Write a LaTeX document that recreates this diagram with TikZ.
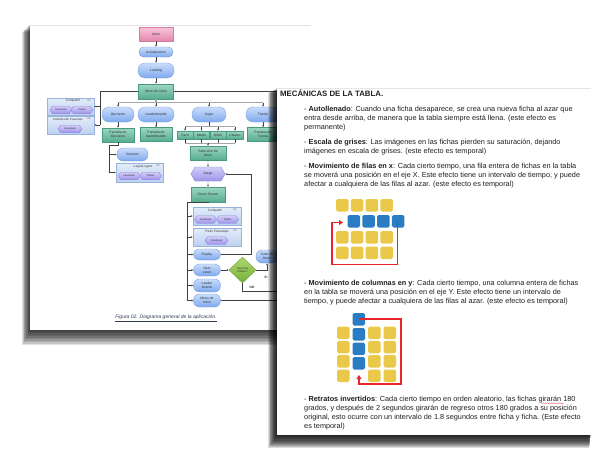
\documentclass[tikz,border=0pt]{standalone}
\usepackage{fontspec}
\setmainfont{Liberation Sans}
\usetikzlibrary{shapes.geometric,shapes.symbols,arrows.meta,decorations.pathmorphing}
\definecolor{pillT}{HTML}{CADDFB}
\definecolor{pillB}{HTML}{7FAAEE}
\definecolor{pillD}{HTML}{7A9EE0}
\definecolor{grT}{HTML}{9DD7C2}
\definecolor{grB}{HTML}{56AC8E}
\definecolor{grD}{HTML}{4A9A7E}
\definecolor{pkT}{HTML}{F8C6DA}
\definecolor{pkB}{HTML}{E586AE}
\definecolor{pkD}{HTML}{D67AA2}
\definecolor{hxT}{HTML}{D3CDFA}
\definecolor{hxB}{HTML}{9E93EA}
\definecolor{hxD}{HTML}{8A80D8}
\definecolor{bxT}{HTML}{E4EDFA}
\definecolor{bxB}{HTML}{BCD1F0}
\definecolor{bxD}{HTML}{98B2DC}
\definecolor{dmT}{HTML}{ADD66E}
\definecolor{dmB}{HTML}{75B03C}
\definecolor{dmD}{HTML}{6A9E38}
\definecolor{tileY}{HTML}{E9C84A}
\definecolor{tileB}{HTML}{2B7DC3}
\definecolor{arrR}{HTML}{E8262B}
\definecolor{capc}{HTML}{2F3B55}
\begin{document}
\begin{tikzpicture}[x=1pt,y=-1pt,
  fc/.style={font=\fontsize{3.4}{3.9}\selectfont, text=black!80, inner sep=0pt, align=center},
  pill/.style={fc, rounded corners=4.5pt, top color=pillT, bottom color=pillB, draw=pillD, line width=0.35pt},
  grect/.style={fc, top color=grT, bottom color=grB, draw=grD, line width=0.35pt},
  pinkbox/.style={fc, top color=pkT, bottom color=pkB, draw=pkD, line width=0.35pt},
  hexbig/.style={fc, shape=signal, signal to=east and west, signal pointer angle=120, top color=hxT, bottom color=hxB, draw=hxD, line width=0.35pt},
  hexsm/.style={fc, font=\fontsize{2.6}{3}\selectfont, shape=signal, signal to=east and west, signal pointer angle=110, top color=hxT, bottom color=hxB, draw=hxD, line width=0.3pt, minimum height=7.5pt},
  grpbox/.style={fc, top color=bxT, bottom color=bxB, draw=bxD, line width=0.35pt},
  gtitle/.style={fc, font=\fontsize{3.2}{3.8}\selectfont},
  gicon/.style={fc, font=\fontsize{2.8}{3}\selectfont, text=black!55},
  dia/.style={fc, shape=diamond, top color=dmT, bottom color=dmB, draw=dmD, line width=0.35pt},
  lbl/.style={fc, font=\bfseries\fontsize{3.2}{3.8}\selectfont},
  conn/.style={draw=black!75, line width=0.4pt, -{Latex[length=2pt,width=1.8pt]}},
  wire/.style={draw=black!75, line width=0.4pt},
  bus/.style={draw=black!35, line width=1.1pt},
  txt/.style={anchor=base west, inner sep=0pt, font=\fontsize{7.3}{9}\selectfont, text=black!88},
  tileyel/.style={fill=tileY, rounded corners=1.6pt},
  tileblu/.style={fill=tileB, rounded corners=1.6pt},
  redarr/.style={draw=arrR, line width=1.1pt, -{Triangle[length=4pt,width=5pt]}}
]
\useasboundingbox (0,0) rectangle (600,450);
\fill[white] (0,0) rectangle (600,450);

% ---------- page 1 ----------
\foreach \i in {1,...,10}{\fill[black,opacity=0.12] (30-\i*0.8,24+\i*0.8) rectangle (311-\i*0.2,330+\i*1.5);}
\fill[white] (30,25) rectangle (311,330);
\draw[black!10, line width=0.8pt] (30,25.4) -- (311,25.4);

% main column
\node[pinkbox, minimum width=34pt, minimum height=14pt] (inicio) at (156,34) {Inicio};
\node[pill, minimum width=34pt, minimum height=10pt] (actual) at (156,52) {Actualizacion};
\node[pill, minimum width=36pt, minimum height=15pt, rounded corners=7pt] (loading) at (156,70.5) {Loading};
\node[grect, minimum width=35pt, minimum height=15pt] (menu) at (156,91.5) {Menu de inicio};

% left group boxes
\node[grpbox, minimum width=47pt, minimum height=17pt] (comp1) at (70.5,106.5) {};
\node[gtitle] (comp1t) at (73,101) {Compartir};
\node[gicon] (comp1i) at (89,100.5) {AC};
\node[hexsm, minimum width=22pt] (fb1) at (61,110) {Facebook};
\node[hexsm, minimum width=22pt] (tw1) at (82,110) {Twitter};
\node[grpbox, minimum width=47pt, minimum height=18pt] (pr1) at (70.5,125) {};
\node[gtitle, font=\fontsize{2.8}{3.2}\selectfont] (pr1t) at (68,119.5) {Pedir/Recibir PowerUps};
\node[gicon] (pr1i) at (89,118.5) {AC};
\node[hexsm, minimum width=24pt] (fb2) at (70,129) {Facebook};

% second row
\node[pill, minimum width=32pt, minimum height=15pt, rounded corners=7pt] (opc) at (118,114.5) {Opciones};
\node[pill, minimum width=36pt, minimum height=15pt, rounded corners=7pt] (lead) at (156,114.5) {Leaderboards};
\node[pill, minimum width=34pt, minimum height=15pt, rounded corners=7pt] (jugar) at (209,114.5) {Jugar};
\node[pill, minimum width=34pt, minimum height=15pt, rounded corners=7pt] (tienda) at (263,114.5) {Tienda};

\node[grect, minimum width=32pt, minimum height=14pt] (popc) at (118,135) {Pantalla de\\Opciones};
\node[grect, minimum width=32pt, minimum height=14pt] (plead) at (156,134.5) {Pantalla de\\leaderboards};
\node[grect, minimum width=32pt, minimum height=14pt] (ptienda) at (263,134.5) {Pantalla de\\Tienda};

\node[grect, minimum width=16pt, minimum height=8pt] (facil) at (185,135) {Facil};
\node[grect, minimum width=16pt, minimum height=8pt] (medio) at (201.5,135) {Medio};
\node[grect, minimum width=16pt, minimum height=8pt] (dificil) at (218,135) {Dificil};
\node[grect, minimum width=17pt, minimum height=8pt] (clasico) at (235,135) {Clasico};

\node[grect, minimum width=36pt, minimum height=14pt] (sel) at (208,153) {Selección de\\Nivel};
\node[hexbig, minimum width=34pt, minimum height=14pt] (juego) at (208,174) {Juego};
\node[grect, minimum width=34pt, minimum height=15pt] (score) at (208,194.5) {Score Screen};

% options subtree
\node[pill, minimum width=31pt, minimum height=13pt, rounded corners=6pt] (vol) at (132.5,154.5) {Volumen};
\node[grpbox, minimum width=47pt, minimum height=19pt] (login) at (139.5,172.5) {};
\node[gtitle] (logint) at (143,167) {Login/Logout};
\node[gicon] (logini) at (158,166) {AC};
\node[hexsm, minimum width=22pt] (fb3) at (129,176) {Facebook};
\node[hexsm, minimum width=22pt] (tw3) at (150.5,176) {Twitter};

% score subtree
\node[grpbox, minimum width=48pt, minimum height=18pt] (comp2) at (217,216) {};
\node[gtitle] (comp2t) at (215,211) {Compartir};
\node[gicon] (comp2i) at (235,210) {AC};
\node[hexsm, minimum width=22pt] (fb4) at (205.5,219.5) {Facebook};
\node[hexsm, minimum width=22pt] (tw4) at (227.5,219.5) {Twitter};
\node[grpbox, minimum width=48pt, minimum height=18pt] (pedir) at (217,237) {};
\node[gtitle] (pedirt) at (217,232) {Pedir PowerUps};
\node[gicon] (pediri) at (235,231) {AC};
\node[hexsm, minimum width=23pt] (fb5) at (216.5,240.5) {Facebook};

\node[pill, minimum width=27pt, minimum height=11pt, rounded corners=5pt] (replay) at (207,254.5) {Replay};
\node[pill, minimum width=27pt, minimum height=12pt, rounded corners=5.5pt] (next) at (207,270) {Next\\Level};
\node[pill, minimum width=27pt, minimum height=13pt, rounded corners=6pt] (lb) at (207,285.5) {Leader\\boards};
\node[pill, minimum width=27pt, minimum height=13pt, rounded corners=6pt] (mi) at (207,300.5) {Menu de\\Inicio};
\node[dia, minimum width=27pt, minimum height=26pt, font=\fontsize{2.8}{3.3}\selectfont] (hay) at (242.5,270) {Hay mas\\niveles?};
\node[pill, minimum width=22pt, minimum height=13pt, rounded corners=6pt] (subir) at (267,256.5) {Subir de\\Nivel};
\node[lbl] (si) at (266,277) {SI};
\node[lbl] (no) at (252,287.5) {NO};

% connectors
\draw[conn] (inicio) -- (actual);
\draw[conn] (actual) -- (loading);
\draw[conn] (loading) -- (menu);
\coordinate (mL) at (100,91.5);
\draw[wire] (menu.west) -- (mL) -- (mL |- pr1);
\draw[conn] (mL |- comp1) -- (comp1);
\draw[conn] (mL |- pr1) -- (pr1);
\coordinate (busL) at (118,102.5);
\coordinate (busR) at (263,102.5);
\draw[bus] (menu.south) -- (menu |- busL);
\draw[bus] (busL) -- (busR);
\draw[conn] (opc |- busL) -- (opc);
\draw[conn] (lead |- busL) -- (lead);
\draw[conn] (jugar |- busL) -- (jugar);
\draw[conn] (tienda |- busL) -- (tienda);
\draw[conn] (opc) -- (popc);
\draw[conn] (lead) -- (plead);
\draw[conn] (tienda) -- (ptienda);
\coordinate (jb) at (185,126.5);
\draw[wire] (jugar.south) -- (jugar |- jb);
\draw[bus, line width=0.8pt] (jb) -- (clasico |- jb);
\draw[conn] (facil |- jb) -- (facil);
\draw[conn] (medio |- jb) -- (medio);
\draw[conn] (dificil |- jb) -- (dificil);
\draw[conn] (clasico |- jb) -- (clasico);
\coordinate (jb2) at (185,143);
\draw[wire] (facil.south) -- (jb2);
\draw[wire] (medio.south) -- (medio |- jb2);
\draw[wire] (dificil.south) -- (dificil |- jb2);
\draw[wire] (clasico.south) -- (clasico |- jb2);
\draw[bus, line width=0.8pt] (jb2) -- (clasico |- jb2);
\draw[conn] (sel |- jb2) -- (sel);
\draw[conn] (sel) -- (juego);
\draw[conn] (juego) -- (score);
% options subtree
\coordinate (oL) at (109,145);
\draw[wire] (popc.south) -- (popc |- oL) -- (oL) -- (oL |- login);
\draw[conn] (oL |- vol) -- (vol);
\draw[conn] (oL |- login) -- (login);
% score subtree
\coordinate (sL) at (187,202.5);
\draw[wire] (score.south) -- (score.south |- sL) -- (sL) -- (sL |- mi);
\draw[conn] (sL |- comp2) -- (comp2);
\draw[conn] (sL |- pedir) -- (pedir);
\draw[conn] (sL |- replay) -- (replay);
\draw[conn] (sL |- next) -- (next);
\draw[conn] (sL |- lb) -- (lb);
\draw[conn] (sL |- mi) -- (mi);
\coordinate (rp) at (251,254.5);
\draw[conn] (replay.east) -- (rp) -- (rp |- juego) -- (juego.east);
\draw[conn] (next) -- (hay);
\draw[conn] (hay.east) -| (subir.south);
\coordinate (noE) at (300,291);
\draw[wire] (hay.south) -- (hay.south |- noE) -- (noE);
\coordinate (miE) at (300,300.5);
\draw[wire] (mi.east) -- (miE);
\coordinate (menuE) at (300,91.5);
\draw[conn] (menuE) -- (menu.east);

\node[font=\itshape\fontsize{5}{6}\selectfont, text=capc, inner sep=0pt] (cap) at (166,318) {\underline{Figura 02. Diagrama general de la aplicación.}};

% ---------- page 2 ----------
\foreach \i in {1,...,12}{\fill[black,opacity=0.14] (277-\i*0.75,88+\i*0.4) rectangle (591-\i*0.15,435+\i*1.1);}
\fill[white] (277,88) rectangle (591,435);
\draw[black!10, line width=0.8pt] (277,88.4) -- (591,88.4);

\node[txt, font=\bfseries\fontsize{7.8}{9}\selectfont] (head) at (280,96.5) {MECÁNICAS DE LA TABLA.};

\node[txt] (a1) at (304,111.5) {- \textbf{Autollenado}: Cuando una ficha desaparece, se crea una nueva ficha al azar que};
\node[txt] (a2) at (304,120.5) {entra desde arriba, de manera que la tabla siempre está llena. (este efecto es};
\node[txt] (a3) at (304,129.5) {permanente)};

\node[txt] (b1) at (304,144.5) {- \textbf{Escala de grises}: Las imágenes en las fichas pierden su saturación, dejando};
\node[txt] (b2) at (304,153.5) {imágenes en escala de grises. (este efecto es temporal)};

\node[txt] (c1) at (304,168.5) {- \textbf{Movimiento de filas en x}: Cada cierto tiempo, una fila entera de fichas en la tabla};
\node[txt] (c2) at (304,177.5) {se moverá una posición en el eje X. Este efecto tiene un intervalo de tiempo, y puede};
\node[txt] (c3) at (304,186.5) {afectar a cualquiera de las filas al azar. (este efecto es temporal)};

% grid 1
\foreach \x in {336,350.8,365.6,380.4}{
  \foreach \y in {199,231,246.5}{\fill[tileyel] (\x,\y) rectangle ++(12.5,12.5);}
}
\foreach \x in {347.5,362.3,377.1,391.9}{\fill[tileblu] (\x,215) rectangle ++(12.5,12.5);}
\coordinate (g1s) at (397.8,221);
\coordinate (g1e) at (343,222.5);
\draw[redarr] (g1s) -- (397.8,264.5) -- (332,264.5) -- (332,222.5) -- (g1e);

\node[txt] (d1) at (304,285.5) {- \textbf{Movimiento de columnas en y}: Cada cierto tiempo, una columna entera de fichas};
\node[txt] (d2) at (304,294.5) {en la tabla se moverá una posición en el eje Y. Este efecto tiene un intervalo de};
\node[txt] (d3) at (304,303.5) {tiempo, y puede afectar a cualquiera de las filas al azar. (este efecto es temporal)};

% grid 2
\foreach \x in {337,368,383.5}{
  \foreach \y in {326.5,340.8,355,369.5}{\fill[tileyel] (\x,\y) rectangle ++(12.5,12.5);}
}
\foreach \y in {313,328,342.5,357}{\fill[tileblu] (352.5,\y) rectangle ++(12.5,12.5);}
\coordinate (g2s) at (359,319);
\coordinate (g2e) at (359,375);
\draw[redarr] (g2s) -- (401,319) -- (401,384) -- (359,384) -- (g2e);

\node[txt] (e1) at (304,401.5) {- \textbf{Retratos invertidos}: Cada cierto tiempo en orden aleatorio, las fichas girarán 180};
\node[txt] (e2) at (304,410.5) {grados, y después de 2 segundos girarán de regreso otros 180 grados a su posición};
\node[txt] (e3) at (304,419.5) {original, esto ocurre con un intervalo de 1.8 segundos entre ficha y ficha. (Este efecto};
\node[txt] (e4) at (304,428.5) {es temporal)};
\draw[arrR!70, line width=0.35pt, decorate, decoration={snake, amplitude=0.35pt, segment length=2pt}] (541,403.2) -- (564,403.2);
\end{tikzpicture}
\end{document}
